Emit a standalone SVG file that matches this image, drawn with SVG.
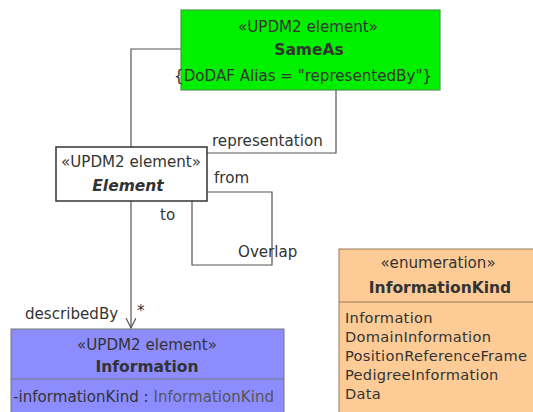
<svg xmlns="http://www.w3.org/2000/svg" width="533" height="412" viewBox="0 0 533 412">
<style>
text{font-family:"DejaVu Sans","Liberation Sans",sans-serif;font-size:15.1px;fill:#333}
.c{text-anchor:middle}
.b{font-weight:bold;font-size:15.5px}
.lit{font-size:14.6px;letter-spacing:0.3px}
.ln{fill:none;stroke:#555;stroke-width:1.2}
</style>
<defs>
<marker id="open" markerWidth="12" markerHeight="12" refX="10" refY="5" orient="auto" markerUnits="userSpaceOnUse">
<path d="M0,0 L10,5 L0,10" fill="none" stroke="#555" stroke-width="1.2"/>
</marker>
</defs>
<rect width="533" height="412" fill="#fff"/>
<g id="connectors">
<path class="ln" d="M131,147 V49 H181"/>
<path class="ln" d="M336,90 V153 H207"/>
<path class="ln" d="M207,192 H272 V265 H192 V201"/>
<path class="ln" d="M131,201 V328" marker-end="url(#open)"/>
<text x="212" y="146">representation</text>
<text x="214" y="183">from</text>
<text x="160" y="220">to</text>
<text x="238" y="257">Overlap</text>
<text x="25" y="319">describedBy</text>
<text x="137" y="316">*</text>
</g>
<g id="SameAs">
<rect x="181" y="10" width="259" height="80" fill="#00f000" stroke="#4a9a4a" stroke-width="1.2"/>
<text class="c" x="308" y="32">«UPDM2 element»</text>
<text class="c b" x="309" y="55">SameAs</text>
<text class="c" x="303" y="81">{DoDAF Alias = "representedBy"}</text>
</g>
<g id="Element">
<rect x="56" y="147" width="151" height="54" fill="#fff" stroke="#333" stroke-width="1.5"/>
<text class="c" x="131" y="167">«UPDM2 element»</text>
<text class="c b" x="128" y="191" font-style="italic">Element</text>
</g>
<g id="Information">
<rect x="11" y="329" width="273" height="90" fill="#8c8cff" stroke="#777" stroke-width="1"/>
<line x1="11" y1="379" x2="284" y2="379" stroke="#777"/>
<text class="c" x="147" y="350">«UPDM2 element»</text>
<text class="c b" x="147" y="372">Information</text>
<text x="13" y="402">-informationKind : <tspan fill="#555">InformationKind</tspan></text>
</g>
<g id="InformationKind">
<rect x="339" y="249" width="210" height="170" fill="#fdcb96" stroke="#9a7a5a" stroke-width="1"/>
<line x1="339" y1="302" x2="549" y2="302" stroke="#9a7a5a"/>
<text class="c" x="438" y="268">«enumeration»</text>
<text class="c b" x="440" y="293">InformationKind</text>
<text class="lit" x="345" y="323">Information</text>
<text class="lit" x="345" y="342">DomainInformation</text>
<text class="lit" x="345" y="361">PositionReferenceFrame</text>
<text class="lit" x="345" y="380">PedigreeInformation</text>
<text class="lit" x="345" y="399">Data</text>
</g>
</svg>
